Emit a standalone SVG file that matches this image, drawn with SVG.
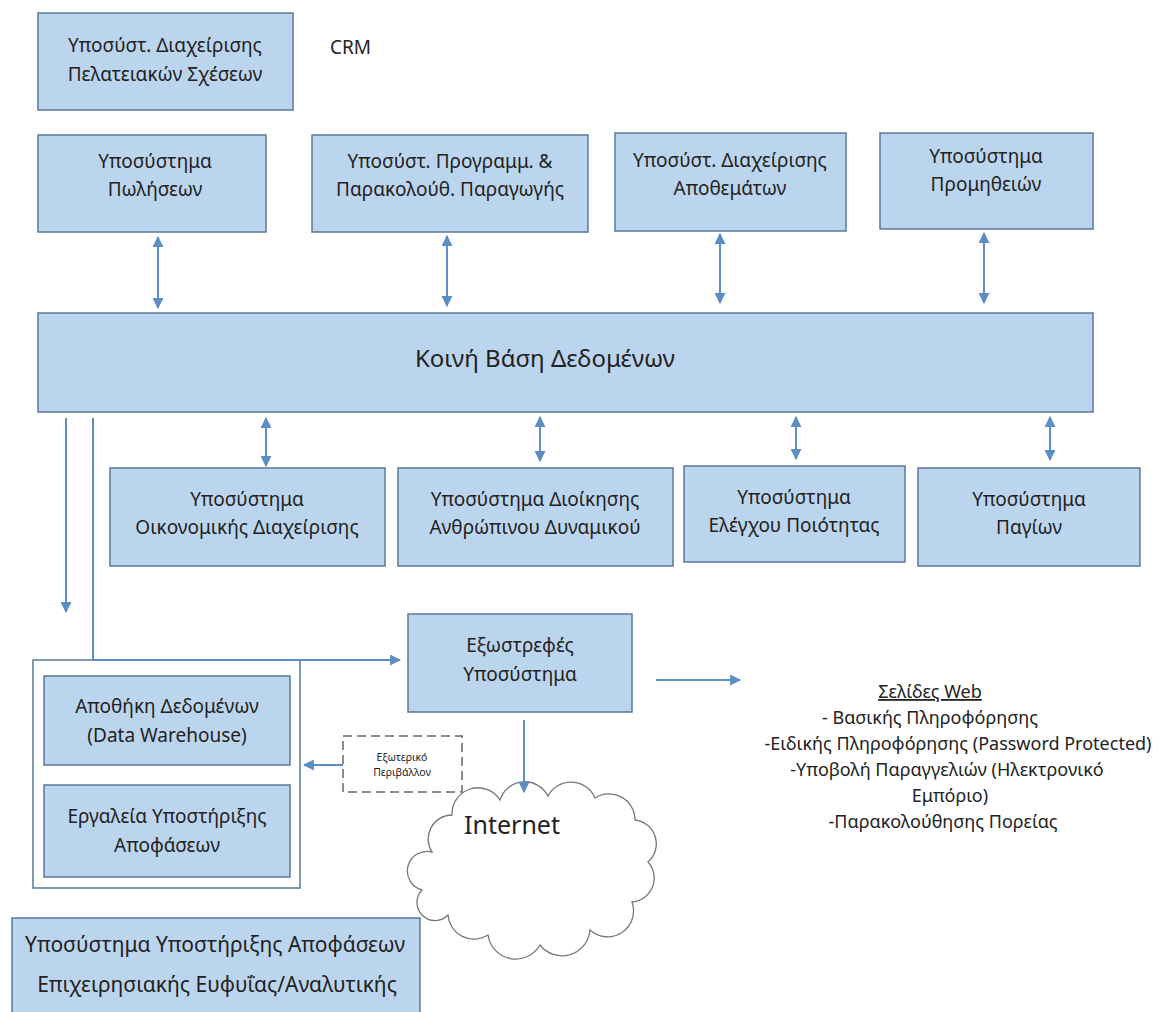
<svg xmlns="http://www.w3.org/2000/svg" width="1162" height="1012" viewBox="0 0 1162 1012">
<style>
.box{fill:#bcd5ee;stroke:#5a7a99;stroke-width:1.5}
.t{font-family:"Noto Sans","Open Sans",sans-serif;font-size:19px;fill:#222;text-anchor:middle}
.w{font-size:18px}
.c{stroke:#5b8ec4;stroke-width:2;fill:none}
</style>
<defs>
<marker id="ah" viewBox="0 0 10 10" refX="9" refY="5" markerWidth="11" markerHeight="11" markerUnits="userSpaceOnUse" orient="auto-start-reverse">
<path d="M0,0 L10,5 L0,10 z" fill="#5b8ec4"/>
</marker>
</defs>
<rect width="1162" height="1012" fill="#fff"/>

<g id="crm">
<rect class="box" x="38" y="13" width="255" height="97"/>
<text class="t" x="165" y="52">Υποσύστ. Διαχείρισης</text>
<text class="t" x="165" y="81">Πελατειακών Σχέσεων</text>
</g>
<text class="t" x="330" y="54" style="text-anchor:start">CRM</text>

<g id="sales">
<rect class="box" x="38" y="135" width="228" height="97"/>
<text class="t" x="155" y="168">Υποσύστημα</text>
<text class="t" x="155" y="196">Πωλήσεων</text>
</g>
<g id="production">
<rect class="box" x="312" y="135" width="276" height="97"/>
<text class="t" x="450" y="168">Υποσύστ. Προγραμμ. &amp;</text>
<text class="t" x="450" y="196">Παρακολούθ. Παραγωγής</text>
</g>
<g id="inventory">
<rect class="box" x="615" y="133" width="231" height="98"/>
<text class="t" x="730" y="167">Υποσύστ. Διαχείρισης</text>
<text class="t" x="730" y="195">Αποθεμάτων</text>
</g>
<g id="procurement">
<rect class="box" x="880" y="133" width="213" height="96"/>
<text class="t" x="986" y="163">Υποσύστημα</text>
<text class="t" x="986" y="191">Προμηθειών</text>
</g>

<g id="db">
<rect class="box" x="38" y="313" width="1055" height="99"/>
<text class="t" x="545" y="367" style="font-size:24px">Κοινή Βάση Δεδομένων</text>
</g>

<g id="finance">
<rect class="box" x="110" y="468" width="275" height="98"/>
<text class="t" x="247" y="506">Υποσύστημα</text>
<text class="t" x="247" y="534">Οικονομικής Διαχείρισης</text>
</g>
<g id="hr">
<rect class="box" x="398" y="468" width="275" height="98"/>
<text class="t" x="535" y="506">Υποσύστημα Διοίκησης</text>
<text class="t" x="535" y="534">Ανθρώπινου Δυναμικού</text>
</g>
<g id="quality">
<rect class="box" x="684" y="466" width="221" height="96"/>
<text class="t" x="794" y="504">Υποσύστημα</text>
<text class="t" x="794" y="532">Ελέγχου Ποιότητας</text>
</g>
<g id="assets">
<rect class="box" x="918" y="468" width="222" height="98"/>
<text class="t" x="1029" y="506">Υποσύστημα</text>
<text class="t" x="1029" y="534">Παγίων</text>
</g>

<g id="dss-container">
<rect x="33" y="660" width="267" height="228" fill="#fff" stroke="#5a7a99" stroke-width="1.5"/>
</g>
<g id="warehouse">
<rect class="box" x="44" y="676" width="246" height="89"/>
<text class="t" x="167" y="713">Αποθήκη Δεδομένων</text>
<text class="t" x="167" y="742">(Data Warehouse)</text>
</g>
<g id="tools">
<rect class="box" x="44" y="785" width="246" height="92"/>
<text class="t" x="167" y="823">Εργαλεία Υποστήριξης</text>
<text class="t" x="167" y="852">Αποφάσεων</text>
</g>

<g id="external-system">
<rect class="box" x="408" y="614" width="224" height="98"/>
<text class="t" x="520" y="652">Εξωστρεφές</text>
<text class="t" x="520" y="681">Υποσύστημα</text>
</g>

<g id="environment">
<rect x="343" y="736" width="119" height="56" fill="#fff" stroke="#666" stroke-width="1.5" stroke-dasharray="9,5"/>
<text class="t" x="402" y="761" style="font-size:10.5px">Εξωτερικό</text>
<text class="t" x="402" y="776" style="font-size:10.5px">Περιβάλλον</text>
</g>

<g id="internet">
<path d="M432,852 A24,24 0 0 1 452,815 A26,26 0 0 1 500,800 A26,26 0 0 1 548,796 A26,26 0 0 1 595,798 A26,26 0 0 1 635,820 A24,24 0 0 1 648,862 A24,24 0 0 1 632,902 A26,26 0 0 1 590,930 A28,28 0 0 1 540,945 A28,28 0 0 1 488,935 A26,26 0 0 1 448,915 A17,17 0 0 1 422,890 A17,17 0 0 1 432,852 Z" fill="#fff" stroke="#777" stroke-width="1.3"/>
<text class="t" x="512" y="834" style="font-size:25px">Internet</text>
</g>

<g id="web-pages">
<text class="t w" x="930" y="698" style="text-decoration:underline">Σελίδες Web</text>
<text class="t w" x="930" y="724">- Βασικής Πληροφόρησης</text>
<text class="t w" x="958" y="750">-Ειδικής Πληροφόρησης (Password Protected)</text>
<text class="t w" x="947" y="776">-Υποβολή Παραγγελιών (Ηλεκτρονικό</text>
<text class="t w" x="950" y="802">Εμπόριο)</text>
<text class="t w" x="943" y="828">-Παρακολούθησης Πορείας</text>
</g>

<g id="dss">
<rect class="box" x="12" y="918" width="408" height="100"/>
<text class="t" x="215" y="952" style="font-size:21px">Υποσύστημα Υποστήριξης Αποφάσεων</text>
<text class="t" x="217" y="992" style="font-size:21px">Επιχειρησιακής Ευφυΐας/Αναλυτικής</text>
</g>

<g id="connectors">
<line class="c" x1="158" y1="237" x2="158" y2="308" marker-start="url(#ah)" marker-end="url(#ah)"/>
<line class="c" x1="447" y1="236" x2="447" y2="306" marker-start="url(#ah)" marker-end="url(#ah)"/>
<line class="c" x1="720" y1="234" x2="720" y2="303" marker-start="url(#ah)" marker-end="url(#ah)"/>
<line class="c" x1="984" y1="233" x2="984" y2="303" marker-start="url(#ah)" marker-end="url(#ah)"/>
<line class="c" x1="266" y1="418" x2="266" y2="466" marker-start="url(#ah)" marker-end="url(#ah)"/>
<line class="c" x1="540" y1="417" x2="540" y2="461" marker-start="url(#ah)" marker-end="url(#ah)"/>
<line class="c" x1="796" y1="417" x2="796" y2="459" marker-start="url(#ah)" marker-end="url(#ah)"/>
<line class="c" x1="1050" y1="417" x2="1050" y2="460" marker-start="url(#ah)" marker-end="url(#ah)"/>
<line class="c" x1="66" y1="418" x2="66" y2="612" marker-end="url(#ah)"/>
<polyline class="c" points="93,418 93,660 400,660" marker-end="url(#ah)"/>
<line class="c" x1="656" y1="680" x2="740" y2="680" marker-end="url(#ah)"/>
<line class="c" x1="343" y1="765" x2="304" y2="765" marker-end="url(#ah)"/>
<line class="c" x1="524" y1="720" x2="524" y2="792" marker-end="url(#ah)"/>
</g>
</svg>
